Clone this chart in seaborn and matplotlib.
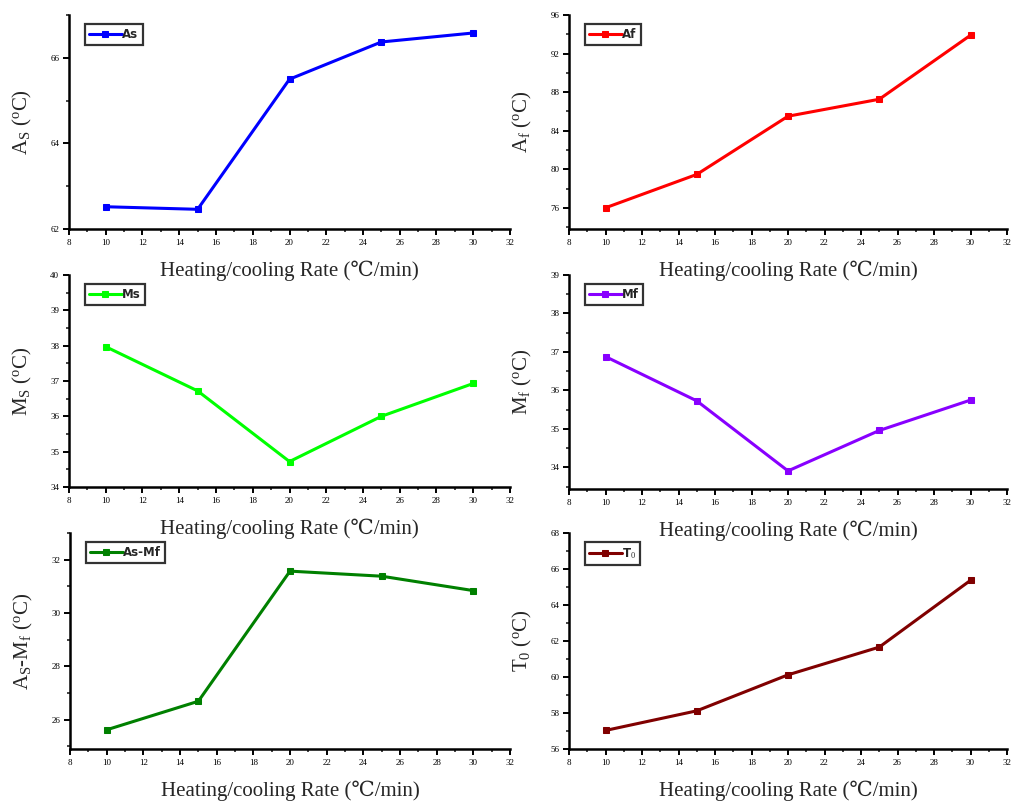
import matplotlib
matplotlib.use("Agg")
import matplotlib.pyplot as plt
from matplotlib.ticker import MultipleLocator, AutoMinorLocator
import seaborn as sns
import pandas as pd

# Heating/cooling rates (°C/min)
rates = [10, 15, 20, 25, 30]

# Transformation temperatures (°C)
as_vals = [62.52, 62.46, 65.50, 66.37, 66.58]
af_vals = [76.0, 79.46, 85.5, 87.26, 93.9]
ms_vals = [37.97, 36.72, 34.72, 36.0, 36.93]
mf_vals = [36.88, 35.73, 33.91, 34.96, 35.75]
as_mf_vals = [25.62, 26.69, 31.57, 31.38, 30.84]
t0_vals = [57.03, 58.12, 60.12, 61.66, 65.37]

sns.set_theme(style="ticks")
plt.rcParams["font.family"] = ["Liberation Serif", "DejaVu Serif"]
plt.rcParams["mathtext.fontset"] = "custom"
plt.rcParams["mathtext.rm"] = "Liberation Serif"
plt.rcParams["mathtext.it"] = "Liberation Serif:italic"

W, H = 1015, 805
fig = plt.figure(figsize=(W / 100, H / 100), dpi=100)


def px_axes(left, right, top, bottom):
    return fig.add_axes([left / W, 1 - bottom / H, (right - left) / W, (bottom - top) / H])


panels = [
    dict(vals=as_vals, color="#0000ff", label="As", ylabel=r"A$_{\mathrm{S}}$ ($^{\mathrm{o}}$C)",
         ylim=(62, 67), ystep=2, box=(69, 510, 15, 229)),
    dict(vals=af_vals, color="#ff0000", label="Af", ylabel=r"A$_{\mathrm{f}}$ ($^{\mathrm{o}}$C)",
         ylim=(73.8, 96), ystep=4, box=(569, 1007, 15, 229), yticks=[76, 80, 84, 88, 92, 96]),
    dict(vals=ms_vals, color="#00ff00", label="Ms", ylabel=r"M$_{\mathrm{S}}$ ($^{\mathrm{o}}$C)",
         ylim=(34, 40), ystep=1, box=(69, 510, 275, 487)),
    dict(vals=mf_vals, color="#8800ff", label="Mf", ylabel=r"M$_{\mathrm{f}}$ ($^{\mathrm{o}}$C)",
         ylim=(33.44, 39), ystep=1, box=(569, 1007, 275, 489), yticks=[34, 35, 36, 37, 38, 39]),
    dict(vals=as_mf_vals, color="#008000", label="As-Mf",
         ylabel=r"A$_{\mathrm{S}}$-M$_{\mathrm{f}}$ ($^{\mathrm{o}}$C)",
         ylim=(24.9, 33), ystep=2, box=(70, 510, 533, 749), yticks=[26, 28, 30, 32]),
    dict(vals=t0_vals, color="#800000", label=r"T$_0$", ylabel=r"T$_0$ ($^{\mathrm{o}}$C)",
         ylim=(56, 68), ystep=2, box=(569, 1007, 533, 749)),
]

for p in panels:
    ax = px_axes(*p["box"])
    ax.patch.set_visible(False)
    df = pd.DataFrame({"rate": rates, "temp": p["vals"]})
    sns.lineplot(data=df, x="rate", y="temp", ax=ax, color=p["color"], marker="s",
                 markersize=5, linewidth=2.2, markeredgecolor=p["color"], label=p["label"])
    ax.set_xlim(8, 32)
    ax.set_ylim(*p["ylim"])
    ax.xaxis.set_major_locator(MultipleLocator(2))
    ax.xaxis.set_minor_locator(AutoMinorLocator(2))
    if "yticks" in p:
        ax.set_yticks(p["yticks"])
    else:
        ax.yaxis.set_major_locator(MultipleLocator(p["ystep"]))
    ax.yaxis.set_minor_locator(AutoMinorLocator(2))
    sns.despine(ax=ax)
    for s in ("left", "bottom"):
        ax.spines[s].set_linewidth(1.8)
        ax.spines[s].set_color("black")
    ax.tick_params(which="major", direction="out", length=4, width=1.4, labelsize=6.5,
                   colors="black", pad=3)
    ax.tick_params(which="minor", direction="out", length=2.5, width=1.2)
    ax.set_xlabel("Heating/cooling Rate (\u2103/min)", fontsize=15, labelpad=10)
    ax.set_ylabel(p["ylabel"], fontsize=15, labelpad=12)
    leg = ax.legend(loc="upper left", bbox_to_anchor=(0.03, 0.97), frameon=True, fancybox=False,
                    edgecolor="black", handlelength=2.8, handletextpad=0.05, borderpad=0.35,
                    borderaxespad=0.2,
                    prop={"family": "DejaVu Sans", "weight": "bold", "size": 8.5})
    leg.get_frame().set_linewidth(1.6)

fig.savefig("out.png", dpi=100, facecolor="white")
